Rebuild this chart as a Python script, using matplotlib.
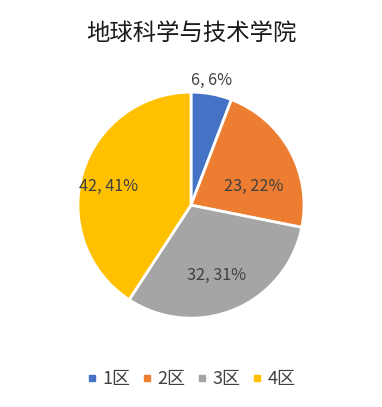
import numpy as np
import matplotlib
matplotlib.use("Agg")
import matplotlib.pyplot as plt
from matplotlib.lines import Line2D

plt.rcParams['font.family'] = ['Noto Sans CJK SC', 'DejaVu Sans']

title = "地球科学与技术学院"
categories = ["1区", "2区", "3区", "4区"]
values = [6, 23, 32, 42]
colors = ["#4472C4", "#ED7D31", "#A5A5A5", "#FFC000"]

# label placement style (radial distance, angle tweak in degrees)
label_dist = [1.12, 0.58, 0.66, 0.75]
label_dang = [1, -12, -3, 4]

fig = plt.figure(figsize=(3.82, 4.07), dpi=100)
ax = fig.add_axes([0.5 - 0.296, 0.496 - 0.2777, 0.592, 0.5554])
wedges, _ = ax.pie(values, colors=colors, startangle=90, counterclock=False,
                   wedgeprops=dict(edgecolor="white", linewidth=2))
ax.set_aspect('equal')
ax.set_xlim(-1, 1)
ax.set_ylim(-1, 1)

total = sum(values)
for w, v, d, da in zip(wedges, values, label_dist, label_dang):
    ang = np.deg2rad((w.theta1 + w.theta2) / 2 + da)
    pct = round(100 * v / total)
    ax.text(d * np.cos(ang), d * np.sin(ang), f"{v}, {pct}%",
            ha="center", va="center", fontsize=11.7, color="#404040")

fig.text(0.5, 1 - 33 / 407, title, ha="center", va="center", fontsize=16.8, color="#1a1a1a")

handles = [Line2D([], [], marker="s", linestyle="none", markersize=4,
                  markerfacecolor=c, markeredgecolor=c) for c in colors]
fig.legend(handles, categories, loc="center", bbox_to_anchor=(0.5, 1 - 379 / 407),
           ncol=4, frameon=False, fontsize=13, handlelength=0.6, handletextpad=0.25,
           columnspacing=0.65, labelcolor="#404040")

fig.savefig("out.png", dpi=100, facecolor="white")
